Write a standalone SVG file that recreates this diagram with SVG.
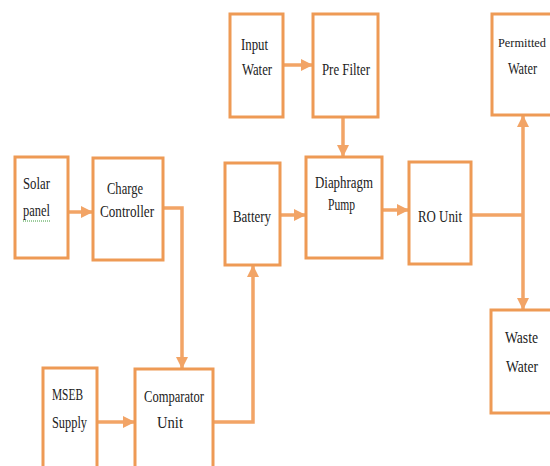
<svg xmlns="http://www.w3.org/2000/svg" width="550" height="466" viewBox="0 0 550 466">
<style>
.box{fill:#fff;stroke:#EE9A55;stroke-width:3}
.lbl{font-family:'Liberation Serif','Times New Roman',serif;font-size:16px;fill:#222}
.c{fill:none;stroke:#F2A466;stroke-width:3.5}
</style>
<defs>
<marker id="ah" markerUnits="userSpaceOnUse" markerWidth="12" markerHeight="12" refX="11" refY="6" orient="auto">
<path d="M0,0 L12,6 L0,12 Z" fill="#F2A466"/>
</marker>
</defs>
<rect width="550" height="466" fill="#fff"/>
<g id="connectors">
<path class="c" d="M68,212 H92" marker-end="url(#ah)"/>
<path class="c" d="M283,65 H312" marker-end="url(#ah)"/>
<path class="c" d="M343,117 V156" marker-end="url(#ah)"/>
<path class="c" d="M280,215 H305" marker-end="url(#ah)"/>
<path class="c" d="M382,210 H408" marker-end="url(#ah)"/>
<path class="c" d="M471,215 H523"/>
<path class="c" d="M523,215 V116" marker-end="url(#ah)"/>
<path class="c" d="M523,215 V309" marker-end="url(#ah)"/>
<path class="c" d="M163,208 H182 V368" marker-end="url(#ah)"/>
<path class="c" d="M97,422 H134" marker-end="url(#ah)"/>
<path class="c" d="M213,422 H253 V266" marker-end="url(#ah)"/>
</g>
<g id="solar">
<rect class="box" x="15" y="157" width="53" height="101"/>
<text class="lbl" x="23" y="189" textLength="27" lengthAdjust="spacingAndGlyphs">Solar</text>
<text class="lbl" x="23" y="216" textLength="27" lengthAdjust="spacingAndGlyphs">panel</text>
<path d="M23,221 H50" stroke="#3a9a3a" stroke-width="1" stroke-dasharray="1,1"/>
</g>
<g id="charge">
<rect class="box" x="93" y="158" width="70" height="102"/>
<text class="lbl" x="107" y="194" textLength="36" lengthAdjust="spacingAndGlyphs">Charge</text>
<text class="lbl" x="100" y="217" textLength="54" lengthAdjust="spacingAndGlyphs">Controller</text>
</g>
<g id="input">
<rect class="box" x="230" y="14" width="53" height="103"/>
<text class="lbl" x="241" y="50" textLength="27" lengthAdjust="spacingAndGlyphs">Input</text>
<text class="lbl" x="242" y="75" textLength="30" lengthAdjust="spacingAndGlyphs">Water</text>
</g>
<g id="prefilter">
<rect class="box" x="313" y="14" width="65" height="103"/>
<text class="lbl" x="322" y="75" textLength="48" lengthAdjust="spacingAndGlyphs">Pre Filter</text>
</g>
<g id="battery">
<rect class="box" x="225" y="163" width="55" height="102"/>
<text class="lbl" x="233" y="222" textLength="38" lengthAdjust="spacingAndGlyphs">Battery</text>
</g>
<g id="pump">
<rect class="box" x="306" y="157" width="76" height="101"/>
<text class="lbl" x="315" y="188" textLength="58" lengthAdjust="spacingAndGlyphs">Diaphragm</text>
<text class="lbl" x="328" y="210" textLength="27" lengthAdjust="spacingAndGlyphs">Pump</text>
</g>
<g id="ro">
<rect class="box" x="409" y="162" width="62" height="102"/>
<text class="lbl" x="418" y="222" textLength="44" lengthAdjust="spacingAndGlyphs">RO Unit</text>
</g>
<g id="permitted">
<rect class="box" x="492" y="14" width="62" height="101"/>
<text class="lbl" x="498" y="47" style="font-size:13px" textLength="48" lengthAdjust="spacingAndGlyphs">Permitted</text>
<text class="lbl" x="508" y="74" textLength="29" lengthAdjust="spacingAndGlyphs">Water</text>
</g>
<g id="waste">
<rect class="box" x="491" y="310" width="62" height="103"/>
<text class="lbl" x="505" y="343" textLength="33" lengthAdjust="spacingAndGlyphs">Waste</text>
<text class="lbl" x="506" y="372" textLength="32" lengthAdjust="spacingAndGlyphs">Water</text>
</g>
<g id="mseb">
<rect class="box" x="43" y="368" width="54" height="110"/>
<text class="lbl" x="52" y="400" textLength="31" lengthAdjust="spacingAndGlyphs">MSEB</text>
<text class="lbl" x="52" y="428" textLength="35" lengthAdjust="spacingAndGlyphs">Supply</text>
</g>
<g id="comparator">
<rect class="box" x="135" y="369" width="78" height="110"/>
<text class="lbl" x="144" y="402" textLength="60" lengthAdjust="spacingAndGlyphs">Comparator</text>
<text class="lbl" x="157" y="428" textLength="26" lengthAdjust="spacingAndGlyphs">Unit</text>
</g>
</svg>
